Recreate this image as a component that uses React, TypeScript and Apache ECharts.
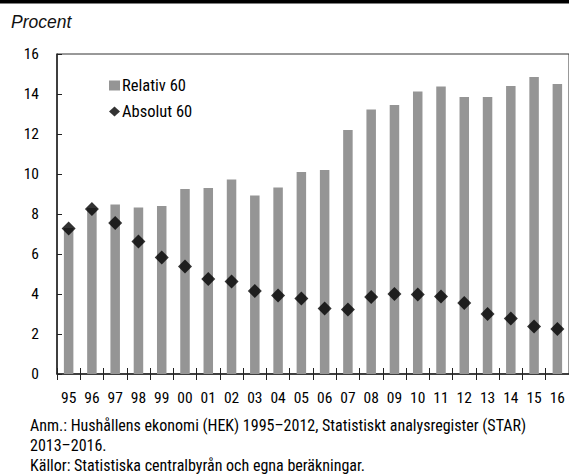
import React, { useEffect, useRef } from "react";
import * as echarts from "echarts";

const categories = ["95","96","97","98","99","00","01","02","03","04","05","06","07","08","09","10","11","12","13","14","15","16"];
const relativ60 = [7.3, 8.3, 8.47, 8.33, 8.4, 9.25, 9.3, 9.73, 8.92, 9.32, 10.1, 10.2, 12.2, 13.23, 13.45, 14.12, 14.37, 13.85, 13.85, 14.4, 14.85, 14.5];
const absolut60 = [7.28, 8.25, 7.55, 6.63, 5.83, 5.38, 4.75, 4.62, 4.15, 3.92, 3.78, 3.28, 3.23, 3.85, 4.0, 3.98, 3.88, 3.55, 3.0, 2.77, 2.37, 2.25];
const seriesNames = ["Relativ 60", "Absolut 60"];
const yLabel = "Procent";
const noteLines = [
  "Anm.: Hushållens ekonomi (HEK) 1995–2012, Statistiskt analysregister (STAR)",
  "2013–2016.",
  "Källor: Statistiska centralbyrån och egna beräkningar.",
];

const NARROW = "'Roboto Condensed', 'DejaVu Sans Condensed', sans-serif";

export default function App() {
  const ref = useRef<HTMLDivElement>(null);
  useEffect(() => {
    if (!ref.current) return;
    const chart = echarts.init(ref.current, null, { renderer: "svg" });
    chart.setOption({
      animation: false,
      backgroundColor: "#ffffff",
      textStyle: { fontFamily: NARROW },
      grid: {
        left: 57,
        top: 54,
        width: 514,
        height: 320,
        show: true,
        borderColor: "#333",
        borderWidth: 1,
        containLabel: false,
      },
      legend: {
        left: 104,
        top: 72,
        orient: "vertical",
        itemWidth: 11,
        itemHeight: 10,
        itemGap: 9,
        textStyle: { fontFamily: NARROW, fontSize: 16.5, color: "#000", padding: [0, 0, 0, -3] },
        data: [
          { name: seriesNames[0], icon: "rect" },
          { name: seriesNames[1], icon: "diamond" },
        ],
      },
      xAxis: [
        {
          type: "category",
          data: categories,
          position: "bottom",
          boundaryGap: true,
          axisLine: { show: true, lineStyle: { color: "#222", width: 1.5 } },
          axisTick: { show: true, length: 6, lineStyle: { color: "#222" } },
          axisLabel: { fontFamily: NARROW, fontSize: 15.5, color: "#000", margin: 16, interval: 0 },
          splitLine: { show: false },
        },
        {
          type: "category",
          data: categories,
          position: "bottom",
          boundaryGap: true,
          axisLine: { show: false },
          axisTick: { show: true, inside: true, length: 6, lineStyle: { color: "#222" } },
          axisLabel: { show: false },
          splitLine: { show: false },
        },
      ],
      yAxis: {
        type: "value",
        min: 0,
        max: 16,
        interval: 2,
        axisLine: { show: true, lineStyle: { color: "#222", width: 1.5 } },
        axisTick: { show: true, inside: true, length: 5, lineStyle: { color: "#222" } },
        axisLabel: { fontFamily: NARROW, fontSize: 15.5, color: "#000", margin: 18 },
        splitLine: { show: false },
      },
      series: [
        {
          name: seriesNames[0],
          type: "bar",
          data: relativ60,
          barWidth: 9.5,
          itemStyle: { color: "#959595" },
          xAxisIndex: 0,
        },
        {
          name: seriesNames[1],
          type: "scatter",
          data: absolut60,
          symbol: "diamond",
          symbolSize: 14,
          itemStyle: { color: "#000" },
          xAxisIndex: 0,
          z: 5,
        },
      ],
      graphic: [
        { type: "rect", left: 0, top: 0, shape: { x: 0, y: 0, width: 569, height: 3.5 }, style: { fill: "#000" } },
        {
          type: "text",
          x: 11,
          y: 22,
          style: { text: yLabel, fontFamily: "'Liberation Sans', Arial, sans-serif", fontStyle: "italic", fontSize: 17.5, fill: "#111", verticalAlign: "middle" },
        },
        ...noteLines.map((t, i) => ({
          type: "text",
          x: 30,
          y: 425 + i * 20,
          style: { text: t, fontFamily: NARROW, fontSize: 16, fill: "#000", verticalAlign: "middle" },
        })),
      ],
    });
    return () => chart.dispose();
  }, []);
  return <div ref={ref} style={{ position: "fixed", left: 0, top: 0, width: 569, height: 475 }} />;
}
